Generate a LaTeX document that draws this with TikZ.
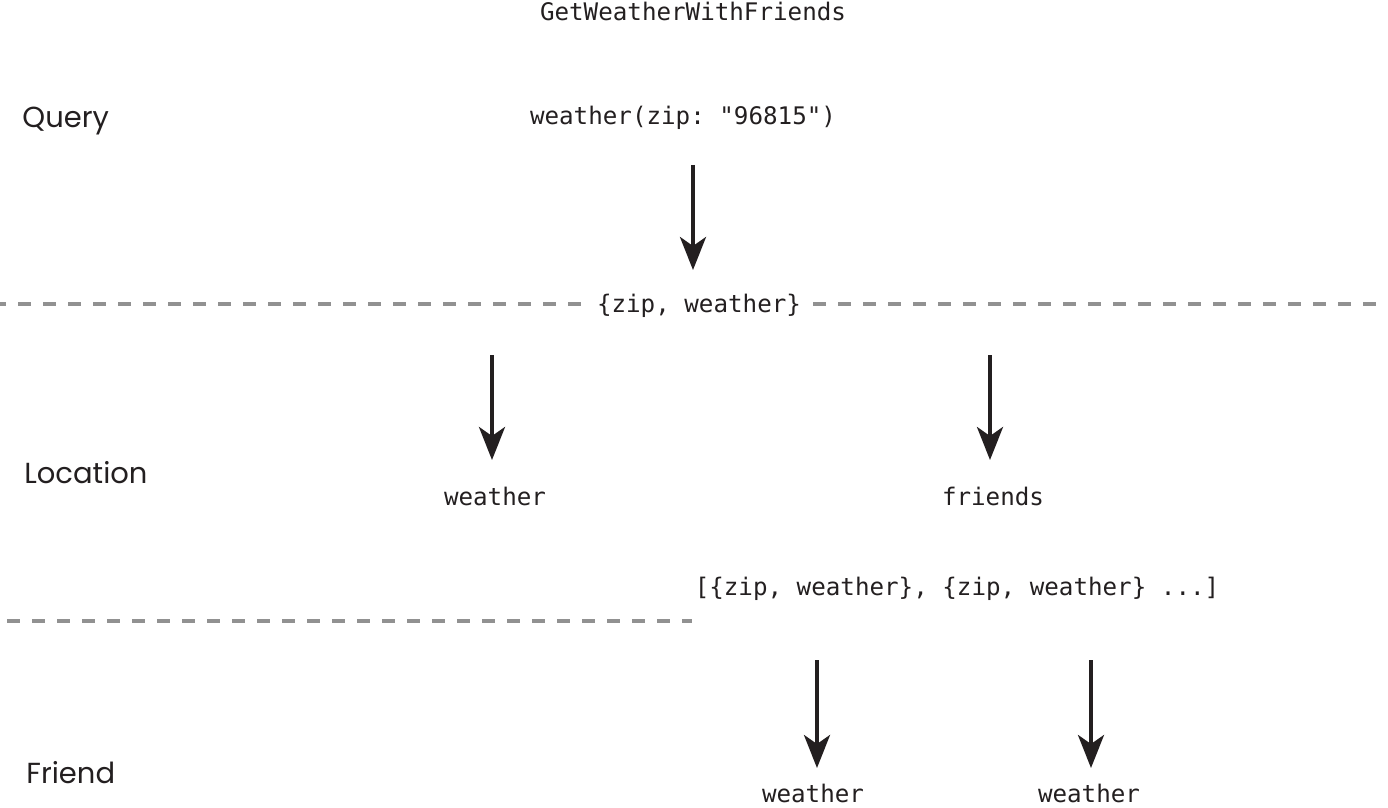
\documentclass[tikz,border=0pt]{standalone}
\usepackage{fontspec}
\setmonofont{DejaVu Sans Mono}
\newfontfamily\lblfont{Poppins}
\usetikzlibrary{positioning, calc, arrows.meta}

\definecolor{inkgray}{RGB}{35,31,32}
\definecolor{dashgray}{RGB}{145,145,145}

\tikzset{
  code/.style={font=\ttfamily\fontsize{12.1}{14}\selectfont, text=inkgray, anchor=base, inner sep=0pt},
  lvl/.style={font=\lblfont\fontsize{14.5}{17}\selectfont, text=inkgray, anchor=base west, inner sep=0pt},
  arr/.style={draw=inkgray, line width=2pt, -{Stealth[length=16.5pt, width=13pt, inset=4.5pt]}},
  sepline/.style={draw=dashgray, line width=2pt, dash pattern=on 6.5pt off 6pt}
}

\begin{document}
\begin{tikzpicture}[x=0.5pt, y=-0.5pt]
                \useasboundingbox (0,0) rectangle (1388,808);

                % level names
                \node[lvl] (query)    at (22,128)  {Query};
                \node[lvl] (location) at (24,483)  {Location};
                \node[lvl] (friend)   at (26,783)  {Friend};

                % query
                \node[code] (title) at (693,21)  {GetWeatherWithFriends};
                \node[code] (call)  at (683,125) {weather(zip: "96815")};
                \coordinate (a1s) at (693,165);
                \coordinate (a1e) at (693,270);
                \draw[arr] (a1s) -- (a1e);

                % location
                \coordinate (sep1) at (0,304);
                \node[code, inner xsep=6pt] (loc) at (699,312) {\{zip, weather\}};
                \draw[sepline, dash phase=3.5pt] (sep1) -- (loc.west |- sep1);
                \draw[sepline] (loc.east |- sep1) -- (1388,304);

                \coordinate (a2s) at (492,355);
                \coordinate (a2e) at (492,460);
                \coordinate (a3s) at (990,355);
                \coordinate (a3e) at (990,460);
                \draw[arr] (a2s) -- (a2e);
                \draw[arr] (a3s) -- (a3e);
                \node[code] (locw) at (495,505) {weather};
                \node[code] (locf) at (993,505) {friends};

                % friends
                \node[code] (list) at (957,595) {[\{zip, weather\}, \{zip, weather\} ...]};
                \coordinate (sep2) at (7,621);
                \draw[sepline] (sep2) -- (692,621);

                \coordinate (a4s) at (817,660);
                \coordinate (a4e) at (817,768);
                \coordinate (a5s) at (1091,660);
                \coordinate (a5e) at (1091,768);
                \draw[arr] (a4s) -- (a4e);
                \draw[arr] (a5s) -- (a5e);
                \node[code] (frw1) at (813,802)  {weather};
                \node[code] (frw2) at (1089,802) {weather};
            \end{tikzpicture}
\end{document}
